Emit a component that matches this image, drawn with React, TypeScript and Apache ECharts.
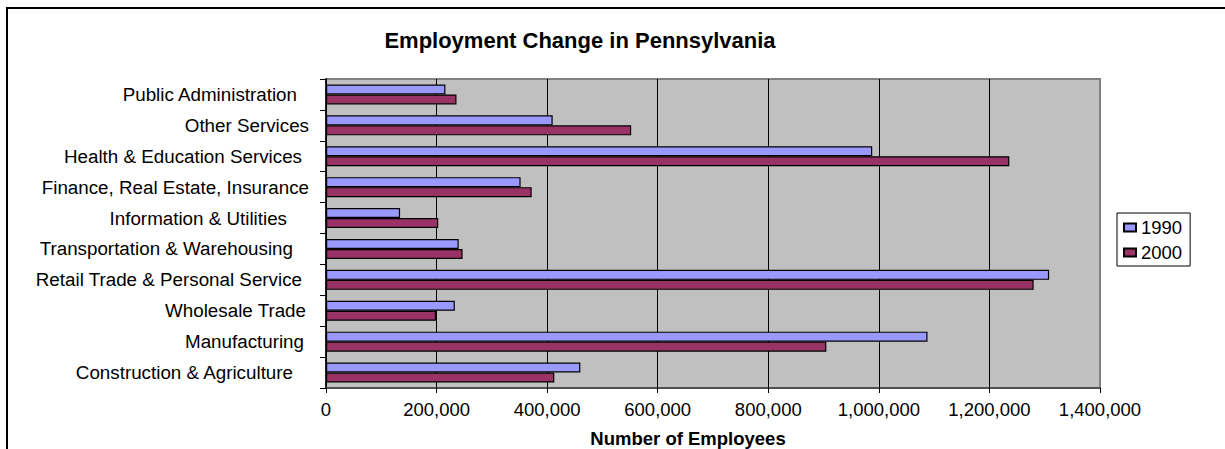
import React, { useEffect, useRef } from "react";
import * as echarts from "echarts";

const categories = [
  "Public Administration",
  "Other Services",
  "Health & Education Services",
  "Finance, Real Estate, Insurance",
  "Information & Utilities",
  "Transportation & Warehousing",
  "Retail Trade & Personal Service",
  "Wholesale Trade",
  "Manufacturing",
  "Construction & Agriculture",
];
const values1990 = [216000, 410000, 988000, 352000, 134000, 240000, 1308000, 233000, 1088000, 460000];
const values2000 = [236000, 552000, 1236000, 372000, 203000, 247000, 1280000, 199000, 905000, 413000];
const seriesNames = ["1990", "2000"];
const xTicks = { min: 0, max: 1400000, interval: 200000 };

// right padding of each category label (the original labels carry trailing spaces)
const labelPad = [12, 0, 7, 0, 22, 16, 7, 3, 5, 16];

const FONT = 'Arial, "Liberation Sans", sans-serif';
const LABEL_SIZE = 18.8;

export default function App() {
  const ref = useRef<HTMLDivElement>(null);
  useEffect(() => {
    document.body.style.margin = "0";
    const chart = echarts.init(ref.current!, null, { renderer: "svg" });
    const rich: Record<string, any> = {};
    labelPad.forEach((p, i) => {
      rich["r" + i] = {
        padding: [0, p, 0, 0],
        fontSize: LABEL_SIZE,
        fontFamily: FONT,
        color: "#000",
      };
    });
    chart.setOption({
      animation: false,
      backgroundColor: "#ffffff",
      textStyle: { fontFamily: FONT },
      graphic: [
        {
          type: "rect",
          shape: { x: 7, y: 8, width: 1400, height: 700 },
          style: { fill: "none", stroke: "#000", lineWidth: 2 },
          silent: true,
        },
        {
          type: "text",
          x: 580,
          y: 40,
          style: {
            text: "Employment Change in Pennsylvania",
            fontFamily: FONT,
            fontSize: 22,
            fontWeight: "bold",
            fill: "#000",
            align: "center",
            verticalAlign: "middle",
          },
        },
        {
          type: "text",
          x: 688,
          y: 438,
          style: {
            text: "Number of Employees",
            fontFamily: FONT,
            fontSize: 18.5,
            fontWeight: "bold",
            fill: "#000",
            align: "center",
            verticalAlign: "middle",
          },
        },
      ],
      legend: {
        data: seriesNames,
        orient: "vertical",
        left: 1117,
        top: 213,
        borderColor: "#000",
        borderWidth: 1,
        padding: [5, 8, 4, 6],
        itemWidth: 12,
        itemHeight: 8,
        itemGap: 6,
        icon: "rect",
        textStyle: { fontFamily: FONT, fontSize: 18.5, color: "#000" },
      },
      grid: {
        left: 326,
        right: 125,
        top: 79,
        bottom: 61,
        show: true,
        backgroundColor: "#C0C0C0",
        borderColor: "#808080",
        borderWidth: 2,
      },
      xAxis: {
        type: "value",
        min: xTicks.min,
        max: xTicks.max,
        interval: xTicks.interval,
        axisLine: { show: true, lineStyle: { color: "#404040", width: 1.5 } },
        axisTick: { show: true, length: 5, lineStyle: { color: "#000" } },
        axisLabel: {
          color: "#000",
          fontFamily: FONT,
          fontSize: 18.5,
          margin: 12,
          formatter: (v: number) => v.toLocaleString("en-US"),
        },
        splitLine: { show: true, showMaxLine: false, lineStyle: { color: "#000", width: 1 } },
      },
      yAxis: {
        type: "category",
        data: categories,
        inverse: true,
        axisLine: { show: true, lineStyle: { color: "#000", width: 1.5 } },
        axisTick: { show: true, length: 6, lineStyle: { color: "#000" } },
        axisLabel: {
          color: "#000",
          fontFamily: FONT,
          fontSize: LABEL_SIZE,
          margin: 17,
          formatter: (v: string, i: number) => `{r${i}|${v}}`,
          rich,
        },
        splitLine: { show: false },
      },
      series: [
        {
          name: seriesNames[0],
          type: "bar",
          data: values1990,
          barWidth: 10,
          barGap: "0%",
          itemStyle: { color: "#9999FF", borderColor: "#000", borderWidth: 1.2 },
        },
        {
          name: seriesNames[1],
          type: "bar",
          data: values2000,
          barWidth: 10,
          barGap: "0%",
          itemStyle: { color: "#993366", borderColor: "#000", borderWidth: 1.2 },
        },
      ],
    });
    return () => chart.dispose();
  }, []);
  return <div ref={ref} style={{ width: 1225, height: 449 }} />;
}
